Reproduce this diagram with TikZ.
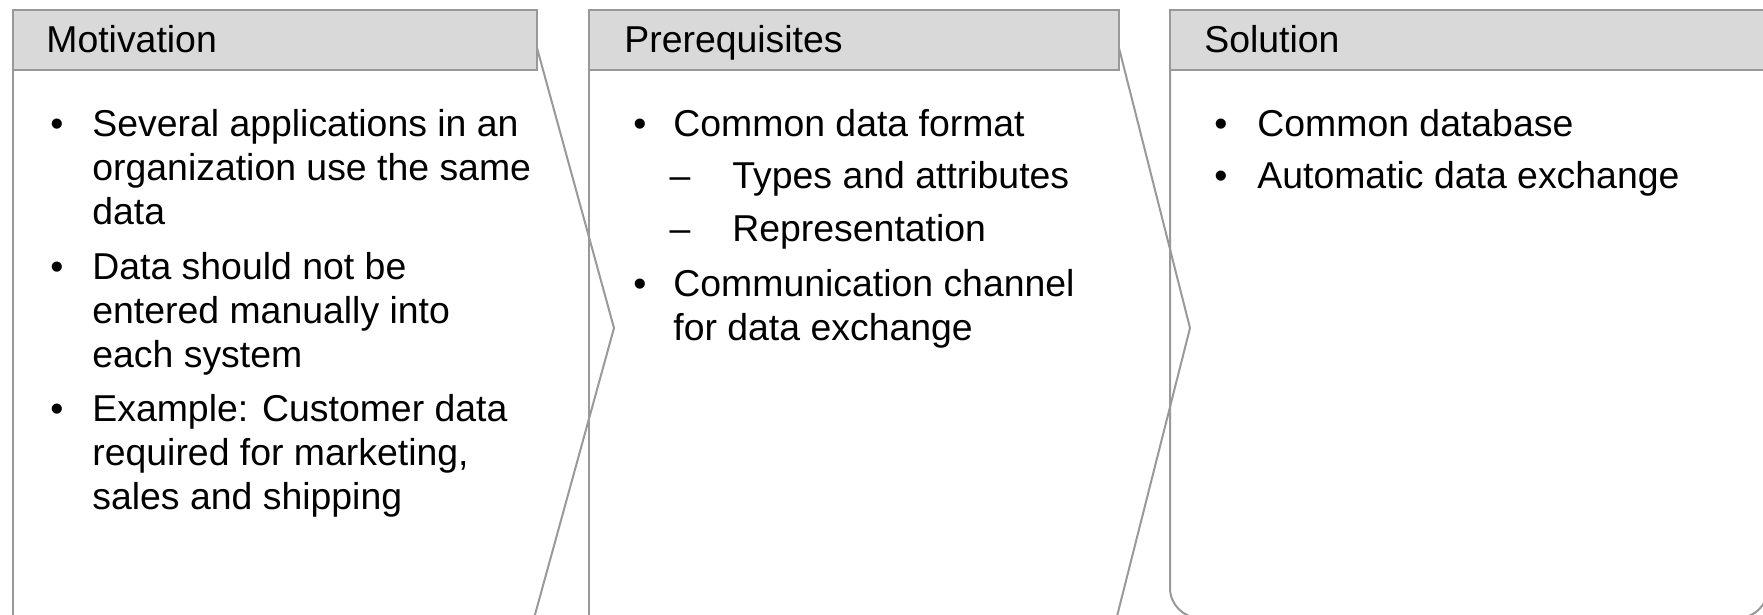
\documentclass[tikz,border=0pt]{standalone}
\usepackage{fontspec}
\setmainfont{Liberation Sans}
\definecolor{edgegray}{HTML}{999999}
\definecolor{headfill}{HTML}{D9D9D9}
\begin{document}
\begin{tikzpicture}[x=0.5pt,y=-0.5pt,
  hdr/.style={draw=edgegray,fill=headfill,line width=1pt},
  edgeline/.style={draw=edgegray,line width=1pt,line join=miter},
  txt/.style={anchor=base west,inner sep=0pt,font=\fontsize{18.7}{22}\selectfont},
  bul/.style={anchor=base,inner sep=0pt,font=\fontsize{18.7}{22}\selectfont}]
\useasboundingbox (0,0) rectangle (1763,615);
\clip (0,0) rectangle (1763,615);
% ---- box 1
\draw[edgeline] (13,70) -- (13,640);
\draw[edgeline] (537,48) -- (614,328) -- (528,640);
\draw[hdr] (13,10) rectangle (537,70);
\node[txt] (h1) at (46,53) {Motivation};
\node[bul] (b11) at (57,137) {•};
\node[txt] (t11) at (92,137) {Several applications in an};
\node[txt] (t12) at (92,181) {organization use the same};
\node[txt] (t13) at (92,225) {data};
\node[bul] (b12) at (57,279) {•};
\node[txt] (t14) at (92,279) {Data should not be};
\node[txt] (t15) at (92,323) {entered manually into};
\node[txt] (t16) at (92,367) {each system};
\node[bul] (b13) at (57,421) {•};
\node[txt] (t17) at (92,421) {Example: Customer data};
\node[txt] (t18) at (92,465) {required for marketing,};
\node[txt] (t19) at (92,509) {sales and shipping};
% ---- box 2
\draw[edgeline] (589,70) -- (589,640);
\draw[edgeline] (1119,48) -- (1190,328) -- (1111,640);
\draw[hdr] (589,10) rectangle (1119,70);
\node[txt] (h2) at (624,53) {Prerequisites};
\node[bul] (b21) at (640,137) {•};
\node[txt] (t21) at (673,137) {Common data format};
\node[bul] (d21) at (680,189) {–};
\node[txt] (t22) at (732,189) {Types and attributes};
\node[bul] (d22) at (680,242) {–};
\node[txt] (t23) at (732,242) {Representation};
\node[bul] (b22) at (640,296) {•};
\node[txt] (t24) at (673,296) {Communication channel};
\node[txt] (t25) at (673,340) {for data exchange};
% ---- box 3
\draw[edgeline,rounded corners=15pt] (1170,70) -- (1170,618) -- (1768,618) -- (1768,70);
\draw[hdr] (1170,10) rectangle (1768,70);
\node[txt] (h3) at (1204,53) {Solution};
\node[bul] (b31) at (1221,137) {•};
\node[txt] (t31) at (1257,137) {Common database};
\node[bul] (b32) at (1221,189) {•};
\node[txt] (t32) at (1257,189) {Automatic data exchange};
\end{tikzpicture}
\end{document}
